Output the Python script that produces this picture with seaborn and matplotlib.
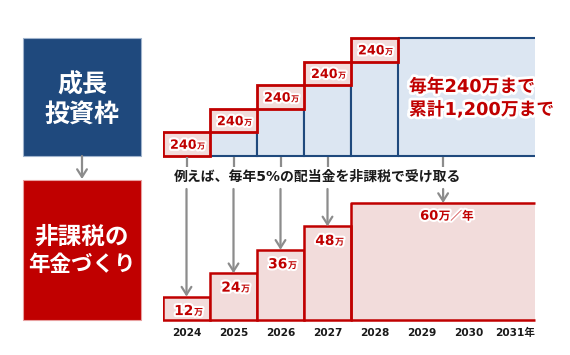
import numpy as np
import matplotlib
matplotlib.use("Agg")
import matplotlib.pyplot as plt
import matplotlib.patheffects as pe
from matplotlib.patches import Rectangle
from matplotlib.transforms import blended_transform_factory
import seaborn as sns

# ---------------- data ----------------
years = [2024, 2025, 2026, 2027, 2028, 2029, 2030, 2031]
year_labels = ["2024", "2025", "2026", "2027", "2028", "2029", "2030", "2031年"]
investment = [240, 240, 240, 240, 240, 0, 0, 0]      # 万円 invested each year
dividends = [12, 24, 36, 48, 60, 60, 60, 60]         # 万円 received each year (5%)
top_box_lines = ["成長", "投資枠"]
bottom_box_lines = ["非課税の", "年金づくり"]
note_text = "例えば、毎年5%の配当金を非課税で受け取る"
summary_lines = ["毎年240万まで", "累計1,200万まで"]
unit = "万"
per_year_unit = "万／年"

# ---------------- style ----------------
sns.set_theme(style="white")
plt.rcParams["font.family"] = ["DejaVu Sans", "Noto Sans CJK JP"]

RED = "#c00000"
PINK = "#f2dcdb"
BLUE = "#1f497d"
BLUE_FILL = "#dce6f2"
NAVY = "#1f497d"
GRAY = "#8c8c8c"
glow = [pe.withStroke(linewidth=3, foreground="white")]

W, H = 570, 355
fig = plt.figure(figsize=(5.7, 3.55), dpi=100)


def fx(px):
    return px / W


def fy(py):
    return (H - py) / H


X0, X1 = 163, 539
END = 2031.42

# ---------------- top chart: cumulative investment ----------------
ax_top = fig.add_axes([fx(X0), fy(160.92), (X1 - X0) / W, 127.83 / H])
yrs = np.array(years)
inv = np.array(investment)
cum = np.cumsum(inv)
before = cum - inv
n_inv = int((inv > 0).sum())

sns.barplot(x=yrs[:n_inv], y=before[:n_inv], native_scale=True, width=1,
            color=BLUE_FILL, saturation=1, edgecolor=BLUE, linewidth=1.5,
            errorbar=None, ax=ax_top, zorder=2)
x_start = yrs[n_inv - 1] + 0.5
ax_top.fill_between([x_start, END], 0, cum[-1], color=BLUE_FILL, lw=0, zorder=1)
ax_top.plot([x_start, END], [cum[-1], cum[-1]], color=BLUE, lw=1.5, zorder=2,
            solid_capstyle="butt")
ax_top.plot([x_start, END], [0, 0], color=BLUE, lw=1.5, zorder=2,
            solid_capstyle="butt")
ax_top.bar(yrs[:n_inv], inv[:n_inv], bottom=before[:n_inv], width=1,
           color=PINK, edgecolor=RED, linewidth=2, zorder=3)
for x, b, v in zip(yrs[:n_inv], before[:n_inv], inv[:n_inv]):
    yc = b + v / 2
    ax_top.annotate(f"{v}", xy=(x, yc), xytext=(7.4, -3.3), textcoords="offset points",
                    ha="right", va="baseline", fontsize=9.2, fontweight="bold",
                    color=RED, path_effects=glow, zorder=5)
    ax_top.annotate(unit, xy=(x, yc), xytext=(7.6, -3.3), textcoords="offset points",
                    ha="left", va="baseline", fontsize=5.8, fontweight="bold",
                    color=RED, path_effects=glow, zorder=5)
ax_top.set_xlim(2023.5, 2031.5)
ax_top.set_ylim(-50, 1250)
ax_top.set_axis_off()

# ---------------- bottom chart: dividends ----------------
ax_bot = fig.add_axes([fx(X0), fy(325.85), (X1 - X0) / W, 128.7 / H])
div = np.array(dividends)
n_step = int(np.argmax(div == div[-1]))

sns.barplot(x=yrs[:n_step], y=div[:n_step], native_scale=True, width=1,
            color=PINK, saturation=1, edgecolor=RED, linewidth=1.8,
            errorbar=None, ax=ax_bot, zorder=2)
p_start = yrs[n_step] - 0.5
ax_bot.fill_between([p_start, END], 0, div[n_step], color=PINK, lw=0, zorder=1)
ax_bot.plot([END, p_start, p_start, END], [div[n_step], div[n_step], 0, 0],
            color=RED, lw=1.8, zorder=2, solid_capstyle="butt")

for x, v in zip(yrs[:n_step], div[:n_step]):
    yc = v - 6.9
    ax_bot.annotate(f"{v}", xy=(x, yc), xytext=(5, -3.6), textcoords="offset points",
                    ha="right", va="baseline", fontsize=9.9, fontweight="bold",
                    color=RED, path_effects=glow, zorder=5)
    ax_bot.annotate(unit, xy=(x, yc), xytext=(5.4, -3.6), textcoords="offset points",
                    ha="left", va="baseline", fontsize=6.5, fontweight="bold",
                    color=RED, path_effects=glow, zorder=5)
mid = (p_start + END) / 2
ax_bot.annotate(f"{div[n_step]}", xy=(mid, div[n_step] - 6.15), xytext=(-3.6, -3.4),
                textcoords="offset points", ha="right", va="baseline",
                fontsize=9.4, fontweight="bold", color=RED, path_effects=glow, zorder=5)
ax_bot.annotate(per_year_unit, xy=(mid, div[n_step] - 6.15), xytext=(-3.2, -3.4),
                textcoords="offset points", ha="left", va="baseline",
                fontsize=8.4, fontweight="bold", color=RED, path_effects=glow, zorder=5)

ax_bot.set_xlim(2023.5, 2031.5)
ax_bot.set_ylim(-3, 63)
ax_bot.set_xticks(years)
ax_bot.set_xticklabels(year_labels, fontsize=7.6, fontweight="bold", color="#1a1a1a")
ax_bot.set_yticks([])
ax_bot.set_xlabel("")
ax_bot.set_ylabel("")
ax_bot.tick_params(axis="x", length=0, pad=1.5)
sns.despine(ax=ax_bot, left=True, bottom=True)
ax_bot.set_facecolor("none")

# connector ticks and arrows
blend = blended_transform_factory(ax_bot.transData, fig.transFigure)
arrow_x = list(yrs[:n_step]) + [mid]
arrow_y = list(div[:n_step]) + [div[n_step]]
for x, y in zip(arrow_x, arrow_y):
    ax_bot.plot([x, x], [fy(157), fy(167)], transform=blend, color=GRAY, lw=1.6,
                clip_on=False, solid_capstyle="butt", zorder=4)
    ax_bot.annotate("", xy=(x, y), xycoords="data", xytext=(x, fy(189)),
                    textcoords=blend, annotation_clip=False,
                    arrowprops=dict(arrowstyle="->,head_length=0.55,head_width=0.35",
                                    color=GRAY, lw=1.6, shrinkA=0, shrinkB=0,
                                    mutation_scale=10), zorder=4)

# ---------------- overlay: labels and boxes ----------------
ov = fig.add_axes([0, 0, 1, 1])
ov.set_xlim(0, W)
ov.set_ylim(H, 0)
ov.set_axis_off()

ov.add_patch(Rectangle((23, 38), 118, 118, facecolor=NAVY, edgecolor="#9fb3cc", lw=0.8))
ov.add_patch(Rectangle((23, 180), 118, 140, facecolor=RED, edgecolor="#e8a0a0", lw=0.8))
for txt, yy in zip(top_box_lines, [85, 116]):
    ov.text(82, yy, txt, ha="center", va="center", fontsize=18, fontweight="bold",
            color="white")
for txt, yy, fs in zip(bottom_box_lines, [237, 265], [17, 15.5]):
    ov.text(82, yy, txt, ha="center", va="center", fontsize=fs, fontweight="bold",
            color="white")
ov.annotate("", xy=(82, 179), xytext=(82, 156),
            arrowprops=dict(arrowstyle="->,head_length=0.55,head_width=0.35",
                            color=GRAY, lw=1.6, shrinkA=0, shrinkB=0, mutation_scale=10))

ov.text(317, 177, note_text, ha="center", va="center", fontsize=10,
        fontweight="bold", color="#1a1a1a")
for txt, yy in zip(summary_lines, [87, 110]):
    ov.text(409, yy, txt, ha="left", va="center", fontsize=12.8, fontweight="bold",
            color=RED, path_effects=[pe.withStroke(linewidth=4, foreground="white")])

fig.savefig("out.png", dpi=100)
